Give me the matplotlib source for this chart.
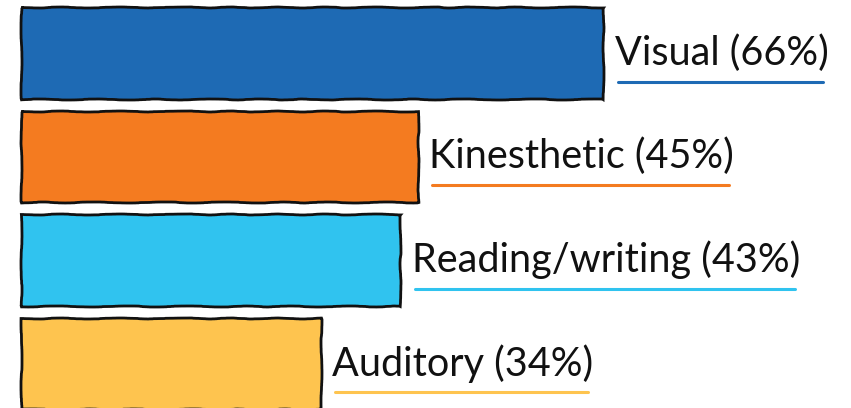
import matplotlib
matplotlib.use("Agg")
import matplotlib.pyplot as plt

styles = ["Visual", "Kinesthetic", "Reading/writing", "Auditory"]
percent = [66, 45, 43, 34]
colors = ["#1e6ab4", "#f47b20", "#30c3ef", "#fec44f"]

fig = plt.figure(figsize=(8.51, 4.08), dpi=100)
ax = fig.add_axes([0, 0, 1, 1])

pos = list(range(len(styles)))
bars = ax.barh(pos, percent, height=0.88, color=colors, edgecolor="#111111", linewidth=2)
for b in bars:
    b.set_sketch_params(scale=0.5, length=120, randomness=10)

ax.set_xlim(-2.38, 94.1)
ax.set_ylim(3.43, -0.512)
ax.axis("off")

texts = []
for i, (name, p) in enumerate(zip(styles, percent)):
    t = ax.text(p + 1.3, i + 0.0, f"{name} ({p}%)", va="center", ha="left",
                fontsize=28.5, family="Lato", color="#111111")
    texts.append(t)

# underline each label in its bar colour
fig.canvas.draw()
r = fig.canvas.get_renderer()
inv = ax.transData.inverted()
for i, t in enumerate(texts):
    bb = t.get_window_extent(r)
    x0, _ = inv.transform((bb.x0 + 3, 0))
    x1, _ = inv.transform((bb.x1 - 5, 0))
    ax.plot([x0, x1], [i + 0.28, i + 0.28], color=colors[i], lw=2.2, solid_capstyle="round")

fig.savefig("out.png", dpi=100)
